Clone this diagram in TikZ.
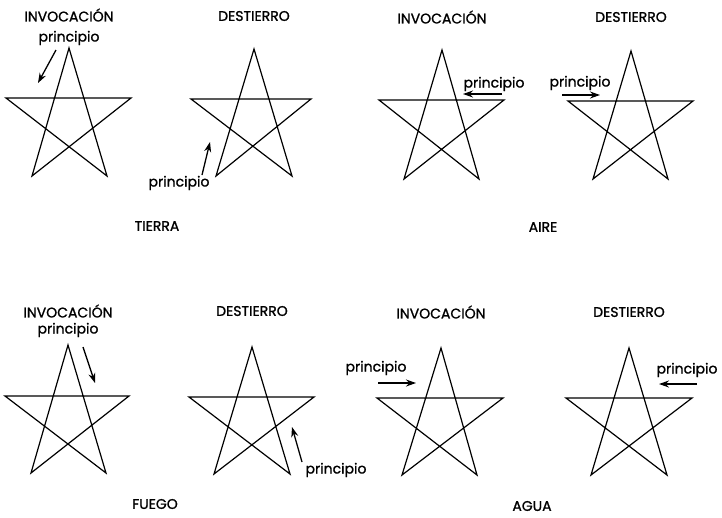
\documentclass[tikz,border=0pt]{standalone}
\usepackage{fontspec}
\newfontfamily\lblfont[FakeBold=1.2]{Poppins}
\usetikzlibrary{arrows.meta}
\newcommand\pentastar[5]{\draw[starline] (#1) -- (#4) -- (#3) -- (#2) -- (#5) -- cycle;}
\begin{document}
\begin{tikzpicture}[x=1pt,y=-1pt,
  starline/.style={line width=1.2pt, line join=miter},
  lbl/.style={font=\lblfont\fontsize{14}{16}\selectfont, inner sep=0pt},
  arr/.style={line width=1.3pt, -{Stealth[length=10pt,width=7pt]}}]
\useasboundingbox (0,0) rectangle (722,517);
% stars
\pentastar{69,48}{6,98}{131,98}{32,176}{107,176}
\pentastar{254,49}{191,99}{311,99}{216,176}{292,176}
\pentastar{442,50}{379,100}{504,100}{404,179}{479,179}
\pentastar{631,51}{568,101}{693,101}{593,179}{668,179}
\pentastar{68,345}{5,396}{129,396}{31,473}{106,473}
\pentastar{252,347}{189,397}{314,397}{214,474}{290,474}
\pentastar{441,348}{377,398}{503,398}{402,475}{477,475}
\pentastar{629,348}{566,398}{692,398}{591,475}{667,475}
% titles
\node[lbl] (h1) at (69,15) {INVOCACIÓN};
\node[lbl] (h2) at (254,16) {DESTIERRO};
\node[lbl] (h3) at (442,17) {INVOCACIÓN};
\node[lbl] (h4) at (631,17) {DESTIERRO};
\node[lbl] (h5) at (68,311) {INVOCACIÓN};
\node[lbl] (h6) at (252,311) {DESTIERRO};
\node[lbl] (h7) at (441,312) {INVOCACIÓN};
\node[lbl] (h8) at (629,312) {DESTIERRO};
% element names
\node[lbl] (e1) at (157,226) {TIERRA};
\node[lbl] (e2) at (543,227) {AIRE};
\node[lbl] (e3) at (155,504) {FUEGO};
\node[lbl] (e4) at (532,506) {AGUA};
% principio labels
\node[lbl] (p1) at (69,38) {principio};
\node[lbl] (p2) at (179,183) {principio};
\node[lbl] (p3) at (494,84) {principio};
\node[lbl] (p4) at (580,83) {principio};
\node[lbl] (p5) at (68,330) {principio};
\node[lbl] (p6) at (336,470) {principio};
\node[lbl] (p7) at (376,368) {principio};
\node[lbl] (p8) at (687,370) {principio};
% arrows
\coordinate (a1s) at (56,50);  \coordinate (a1e) at (38,83);
\coordinate (a2s) at (202,175); \coordinate (a2e) at (210,142);
\coordinate (a3s) at (502,94); \coordinate (a3e) at (463,94);
\coordinate (a4s) at (562,95); \coordinate (a4e) at (600,95);
\coordinate (a5s) at (83,347); \coordinate (a5e) at (95,383);
\coordinate (a6s) at (302,462); \coordinate (a6e) at (292,427);
\coordinate (a7s) at (378,383); \coordinate (a7e) at (416,383);
\coordinate (a8s) at (697,384); \coordinate (a8e) at (659,384);
\foreach \i in {1,...,8} {\draw[arr] (a\i s) -- (a\i e);}
\end{tikzpicture}
\end{document}
